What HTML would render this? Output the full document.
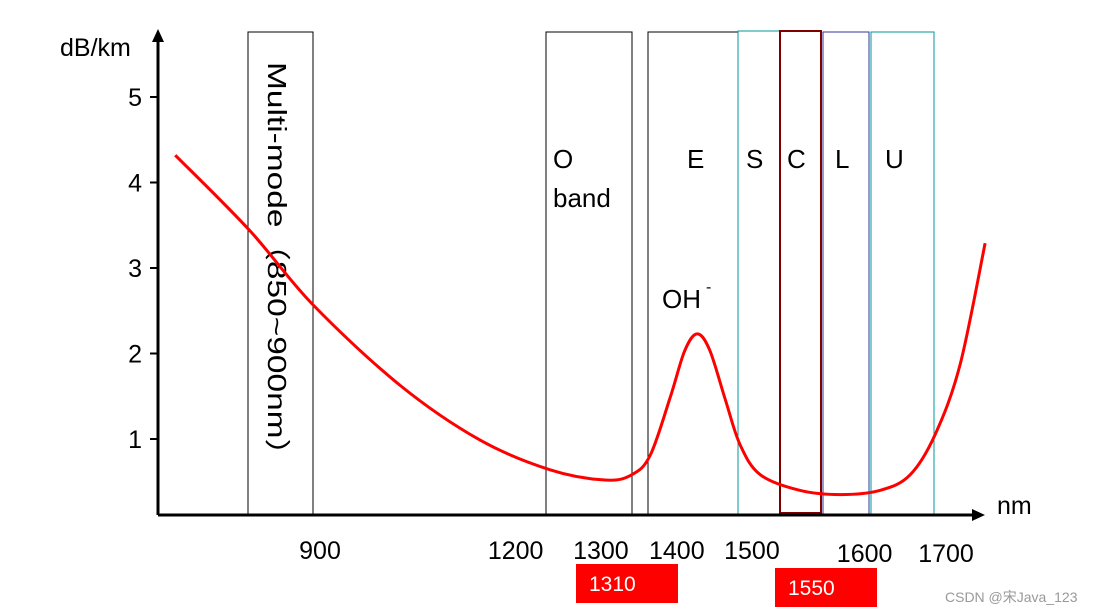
<!DOCTYPE html>
<html><head><meta charset="utf-8"><style>
html,body{margin:0;padding:0;background:#fff;}
svg{display:block;font-family:"Liberation Sans","Noto Sans CJK SC",sans-serif;}
</style></head><body>
<svg id="c" width="1111" height="615" viewBox="0 0 1111 615">
<g id="bands">
<rect x="248" y="32" width="65" height="483" fill="none" stroke="#000" stroke-width="1"/>
<rect x="546" y="32" width="86" height="483" fill="none" stroke="#000" stroke-width="1"/>
<rect x="648" y="32" width="90" height="483" fill="none" stroke="#000" stroke-width="1"/>
<rect x="738" y="31" width="42" height="483" fill="none" stroke="#009999" stroke-width="1"/>
<rect x="780" y="31" width="41" height="482" fill="none" stroke="#800000" stroke-width="2"/>
<rect x="823" y="32" width="46" height="482" fill="none" stroke="#333399" stroke-width="1"/>
<rect x="871" y="32" width="63" height="482" fill="none" stroke="#009999" stroke-width="1"/>
</g>
<g font-size="26" fill="#000">
<text x="268" y="62" transform="rotate(90 268 62)" textLength="410" lengthAdjust="spacingAndGlyphs">Multi-mode（850~900nm）</text>
<text x="553" y="168">O</text>
<text x="553" y="207">band</text>
<text x="687" y="168">E</text>
<text x="746" y="168">S</text>
<text x="787" y="168">C</text>
<text x="835" y="168">L</text>
<text x="885" y="168">U</text>
<text x="662" y="308">OH</text>
<text x="706" y="292" font-size="16">-</text>
<text x="60" y="56" font-size="25">dB/km</text>
<text x="997" y="514" font-size="25">nm</text>
</g>
<g id="axes">
<line x1="158" y1="515" x2="975" y2="515" stroke="#000" stroke-width="3"/>
<polygon points="985,515 972,509 972,521" fill="#000"/>
<line x1="158" y1="515" x2="158" y2="40" stroke="#000" stroke-width="3"/>
<polygon points="158,29 152,42 164,42" fill="#000"/>
</g>
<g id="yticks"></g>
<g id="xlabels" font-size="25"></g>
<path id="curve" fill="none" stroke="#ff0000" stroke-width="3"/>
<rect x="576" y="564" width="102" height="39" fill="#ff0000"/>
<text x="589" y="591" font-size="21" fill="#fff">1310</text>
<rect x="775" y="568" width="102" height="39" fill="#ff0000"/>
<text x="788" y="595" font-size="21" fill="#fff">1550</text>
<text x="945" y="602" font-size="14" fill="#999">CSDN @宋Java_123</text>
</svg>
<script>
const wavelengths=[715,810,891,1002,1104,1194,1264,1298,1322,1348,1366,1382,1398,1418,1437,1463,1513,1565,1616,1654,1686,1718,1750];
const attenuation=[4.32,3.44,2.57,1.63,0.99,0.64,0.52,0.58,0.81,1.50,2.03,2.23,2.04,1.46,0.93,0.58,0.40,0.35,0.40,0.58,1.05,1.87,3.29];
const yTicks=[1,2,3,4,5];
const xTickLabels=["900","1200","1300","1400","1500","1600","1700"];
const xTickLabelNm=[900,1150,1259,1356,1452,1596,1700];
const xTickRow=[0,0,0,0,0,1,1];
const NS="http://www.w3.org/2000/svg";
function xs(nm){return 320+(nm-900)*0.7825;}
function ys(v){return 524.5-85.5*v;}
const pts=wavelengths.map((w,i)=>[xs(w),ys(attenuation[i])]);
let d="M"+pts[0][0]+","+pts[0][1];
for(let i=0;i<pts.length-1;i++){
  const p0=pts[i-1]||pts[i],p1=pts[i],p2=pts[i+1],p3=pts[i+2]||p2;
  const c1=[p1[0]+(p2[0]-p0[0])/6,p1[1]+(p2[1]-p0[1])/6];
  const c2=[p2[0]-(p3[0]-p1[0])/6,p2[1]-(p3[1]-p1[1])/6];
  d+=" C"+c1+" "+c2+" "+p2;
}
document.getElementById('curve').setAttribute('d',d);
const yt=document.getElementById('yticks');
yTicks.forEach(v=>{
  const l=document.createElementNS(NS,'line');
  
  
  l.setAttribute('x1',150);l.setAttribute('x2',158);
  l.setAttribute('y1',ys(v));l.setAttribute('y2',ys(v));
  l.setAttribute('stroke','#000');l.setAttribute('stroke-width','2');
  yt.appendChild(l);
  const t=document.createElementNS(NS,'text');
  
  
  t.setAttribute('x',142);t.setAttribute('y',ys(v)+9);
  t.setAttribute('text-anchor','end');t.setAttribute('font-size','25');
  t.textContent=v;yt.appendChild(t);
});
const xl=document.getElementById('xlabels');
xTickLabels.forEach((s,i)=>{
  const t=document.createElementNS(NS,'text');
  
  
  t.setAttribute('x',xs(xTickLabelNm[i]));
  t.setAttribute('y',xTickRow[i]?562:559);
  t.setAttribute('text-anchor','middle');
  t.textContent=s;xl.appendChild(t);
});
</script>
</body></html>
